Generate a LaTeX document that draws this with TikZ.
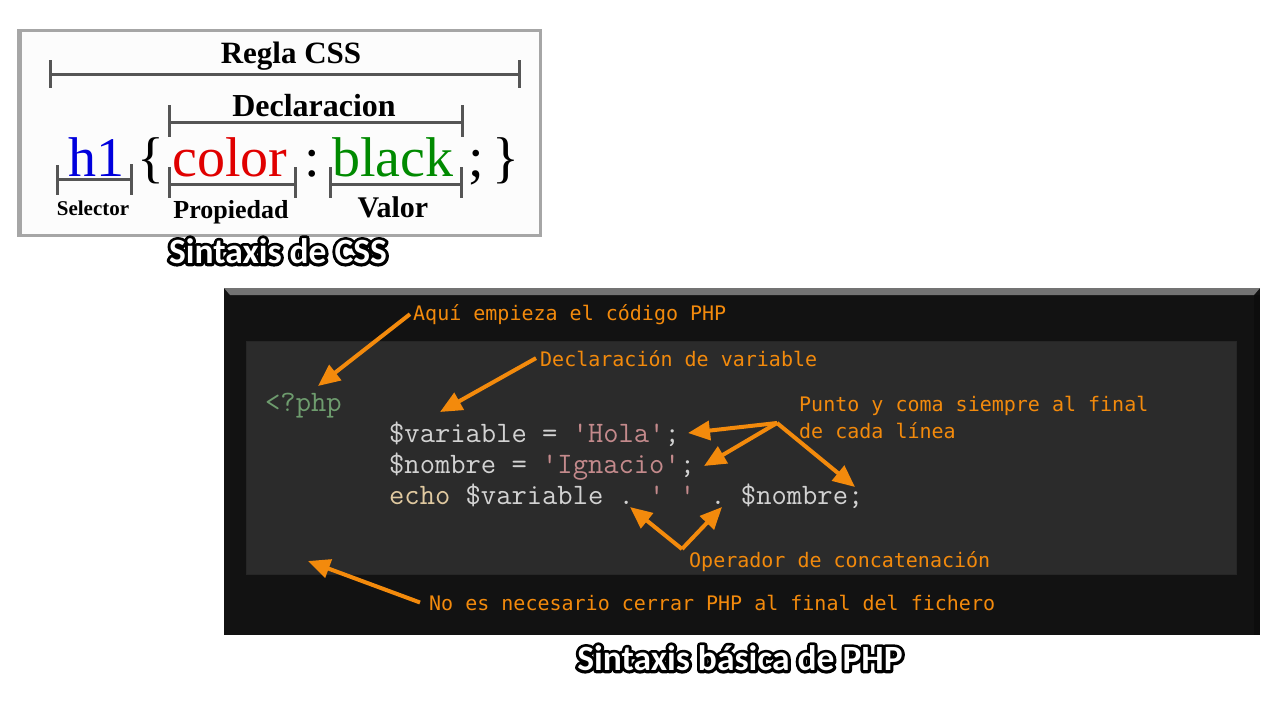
\documentclass[tikz,border=0pt]{standalone}
\usepackage{fontspec}
\setmainfont{Liberation Serif}
\newfontfamily\notefont{DejaVu Sans Mono}
\newfontfamily\captionfont{Carlito}
\newcommand{\outlined}[1]{\makebox[0pt][l]{\color{black}\special{pdf:literal direct 2 Tr 6 w 1 j}#1\special{pdf:literal direct 0 Tr 0.4 w 0 j}}#1}
\usetikzlibrary{arrows.meta,positioning}
\definecolor{bargray}{HTML}{555555}
\definecolor{cssblue}{HTML}{0000DD}
\definecolor{cssred}{HTML}{E00000}
\definecolor{cssgreen}{HTML}{008A00}
\definecolor{panelbg}{HTML}{121212}
\definecolor{innerbg}{HTML}{2B2B2B}
\definecolor{codefg}{HTML}{D2D2D2}
\definecolor{codestr}{HTML}{C48A8C}
\definecolor{codekw}{HTML}{E0C9A0}
\definecolor{codetag}{HTML}{6E9C6E}
\definecolor{noteorange}{HTML}{F38A0C}
\tikzstyle{bar} = [draw=bargray, line width=3pt]
\tikzstyle{csslabel} = [inner sep=0pt, anchor=base]
\tikzstyle{csscode} = [font=\fontsize{56}{60}\selectfont, inner sep=0pt, anchor=base west]
\tikzstyle{caption} = [font=\captionfont\bfseries\fontsize{35.5}{40}\selectfont, text=white, inner sep=0pt]
\tikzstyle{code} = [font=\ttfamily\fontsize{29.7}{32}\selectfont\frenchspacing, text=codefg, inner sep=0pt, anchor=base west]
\tikzstyle{note} = [font=\notefont\fontsize{20}{24}\selectfont, text=noteorange, inner sep=0pt, anchor=base west]
\tikzstyle{pointer} = [->, draw=noteorange, line width=4pt]
\tikzstyle{hub} = [coordinate]

\begin{document}
\begin{tikzpicture}[x=1pt, y=-1pt, >={Triangle[length=22pt,width=19pt]}]
    \useasboundingbox (0,0) rectangle (1280,720);
    \fill[white] (0,0) rectangle (1280,720);

    % CSS rule box
    \fill[black!35] (17,29) rectangle (542,237);
    \fill[black!1] (22,32) rectangle (539,234);

    \node [csslabel, font=\bfseries\fontsize{31}{36}\selectfont] (regla_label) at (291,63) {Regla CSS};
    \draw[bar] (50,60) -- (50,88) (50,74) -- (519,74) (519,60) -- (519,88);
    \node [csslabel, font=\bfseries\fontsize{32}{36}\selectfont] (decl_label) at (314,116) {Declaracion};
    \draw[bar] (169,105) -- (169,137) (169,122) -- (462,122) (462,105) -- (462,137);

    \node [csscode, text=cssblue] (selector) at (68,176) {h1};
    \node [csscode, anchor=base] (open_brace) at (151,176) {\{};
    \node [csscode, text=cssred] (property) at (172,176) {color};
    \node [csscode, anchor=base] (colon) at (312,176) {:};
    \node [csscode, text=cssgreen] (value) at (332,176) {black};
    \node [csscode, anchor=base] (semicolon) at (476,176) {;};
    \node [csscode, anchor=base] (close_brace) at (506,176) {\}};

    \draw[bar] (57,165) -- (57,195) (57,179) -- (131,179) (131,164) -- (131,195);
    \node [csslabel, font=\bfseries\fontsize{21}{24}\selectfont] (selector_label) at (93,215) {Selector};
    \draw[bar] (169,167) -- (169,198) (169,184) -- (295,184) (295,167) -- (295,198);
    \node [csslabel, font=\bfseries\fontsize{26}{30}\selectfont] (property_label) at (231,218) {Propiedad};
    \draw[bar] (330,167) -- (330,198) (330,184) -- (461,184) (461,167) -- (461,198);
    \node [csslabel, font=\bfseries\fontsize{30}{34}\selectfont] (value_label) at (393,217) {Valor};

    \node [caption] (css_caption) at (278,251) {\outlined{Sintaxis de CSS}};

    % PHP panel
    \fill[panelbg] (224,288) rectangle (1260,635);
    \fill[black!55] (224,288) -- (1260,288) -- (1254,295) -- (230,295) -- cycle;
    \fill[black!95] (1254,295) rectangle (1260,635);
    \fill[innerbg] (246,341) rectangle (1236,574);
    \draw[black!85, line width=1pt] (246,341) rectangle (1236,574);

    \node [code, text=codetag] (php_tag) at (265,411) {<?php};
    \node [code] (line_hola) at (389,442) {\$variable = \textcolor{codestr}{\textquotesingle Hola\textquotesingle};};
    \node [code] (line_nombre) at (389,473) {\$nombre = \textcolor{codestr}{\textquotesingle Ignacio\textquotesingle};};
    \node [code] (line_echo) at (389,504) {\textcolor{codekw}{echo} \$variable . \textcolor{codestr}{\textquotesingle{} \textquotesingle} . \$nombre;};

    \node [note] (note_inicio) at (413,320) {Aquí empieza el código PHP};
    \node [note] (note_decl) at (540,366) {Declaración de variable};
    \node [note] (note_punto) at (799,411) {Punto y coma siempre al final};
    \node [note] (note_linea) at (799,438) {de cada línea};
    \node [note] (note_concat) at (689,567) {Operador de concatenación};
    \node [note] (note_cierre) at (429,610) {No es necesario cerrar PHP al final del fichero};

    \node [hub] (punto_hub) at (777,423) {};
    \node [hub] (concat_hub) at (682,549) {};
    \coordinate (tag_tip) at (318,386);
    \coordinate (decl_tip) at (440,412);
    \coordinate (hola_tip) at (688,433);
    \coordinate (nombre_tip) at (704,466);
    \coordinate (echo_tip) at (855,487);
    \coordinate (dot_left) at (630,507);
    \coordinate (dot_right) at (722,507);
    \coordinate (end_tip) at (308,561);

    \draw[pointer] ([xshift=-3pt]note_inicio.west) -- (tag_tip);
    \draw[pointer] ([xshift=-4pt]note_decl.west) -- (decl_tip);
    \draw[pointer] (punto_hub) -- (hola_tip);
    \draw[pointer] (punto_hub) -- (nombre_tip);
    \draw[pointer] (punto_hub) -- (echo_tip);
    \draw[pointer] (concat_hub) -- (dot_left);
    \draw[pointer] (concat_hub) -- (dot_right);
    \draw[pointer] ([xshift=-9pt]note_cierre.west) -- (end_tip);

    \node [caption] (php_caption) at (740,658) {\outlined{Sintaxis básica de PHP}};
\end{tikzpicture}
\end{document}
